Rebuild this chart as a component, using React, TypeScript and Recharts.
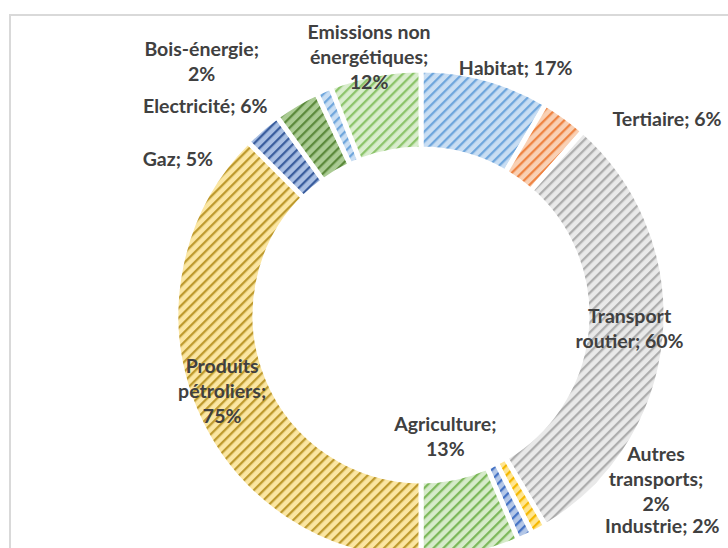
import React from "react"
import { PieChart, Pie, Cell } from "recharts"

// secteurs (moitié droite) puis énergies (moitié gauche), chaque moitié = 100 %
const sectorNames = ["Habitat", "Tertiaire", "Transport routier", "Autres transports", "Industrie", "Agriculture"]
const sectorValues = [17, 6, 60, 2, 2, 13]
const energyNames = ["Produits pétroliers", "Gaz", "Electricité", "Bois-énergie", "Emissions non énergétiques"]
const energyValues = [75, 5, 6, 2, 12]

// [stripe colour, background colour]
const sectorColors = [
  ["#6FA6DC", "#C9DEF3"],
  ["#EE8443", "#F9D0B4"],
  ["#ADADAD", "#E9E9E9"],
  ["#F5B800", "#FFE58F"],
  ["#4472C4", "#B4C7E7"],
  ["#7DB85A", "#D6EBCA"],
]
const energyColors = [
  ["#BE9A2E", "#FBE6A2"],
  ["#3B5E9E", "#A9BFE3"],
  ["#5C8A3C", "#AACB93"],
  ["#6FA6DC", "#C9DEF3"],
  ["#8CC46A", "#D9EDCD"],
]

// where each label goes: radius ("out" | "mid" | factor of outer radius), nudge, wrap width in chars
const labelLayout = [
  { at: "out", dx: 30, dy: -12, wrap: 99 },
  { at: "out", dx: 102, dy: 1, wrap: 99 },
  { at: "mid", dx: 4, dy: -7, wrap: 12 },
  { at: "out", dx: 117, dy: -52, wrap: 11 },
  { at: "out", dx: 137, dy: -12, wrap: 99 },
  { at: 0.53, dx: -2, dy: -7, wrap: 12 },
  { at: "mid", dx: -9, dy: -4, wrap: 11 },
  { at: "out", dx: -84, dy: 29, wrap: 99 },
  { at: "out", dx: -91, dy: 1, wrap: 99 },
  { at: "out", dx: -122, dy: -30, wrap: 13 },
  { at: "out", dx: -6, dy: -18, wrap: 13 },
]

const data = [
  ...sectorNames.map((name, i) => ({ name, value: sectorValues[i] })),
  ...energyNames.map((name, i) => ({ name, value: energyValues[i] })),
]
const colors = [...sectorColors, ...energyColors]

const RAD = Math.PI / 180
const LINE_H = 25

function wrapText(text: string, max: number) {
  const lines: string[] = []
  let cur = ""
  for (const w of text.split(" ")) {
    if (!cur) cur = w
    else if ((cur + " " + w).length <= max) cur += " " + w
    else {
      lines.push(cur)
      cur = w
    }
  }
  if (cur) lines.push(cur)
  return lines
}

function renderLabel(props: any) {
  const { cx, cy, midAngle, innerRadius, outerRadius, index, name, value } = props
  const lay = labelLayout[index]
  let r = outerRadius
  if (lay.at === "mid") r = (innerRadius + outerRadius) / 2
  else if (typeof lay.at === "number") r = outerRadius * lay.at
  const x = cx + r * Math.cos(-midAngle * RAD) + lay.dx
  const y = cy + r * Math.sin(-midAngle * RAD) + lay.dy
  const lines = wrapText(`${name}; ${value}%`, lay.wrap)
  const y0 = y - ((lines.length - 1) * LINE_H) / 2
  return (
    <text
      key={index}
      x={x}
      y={y0}
      textAnchor="middle"
      dominantBaseline="central"
      fill="#404040"
      fontFamily="Lato, sans-serif"
      fontWeight={700}
      fontSize={19.5}
    >
      {lines.map((l, i) => (
        <tspan key={i} x={x} y={y0 + i * LINE_H}>
          {l}
        </tspan>
      ))}
    </text>
  )
}

export default function App() {
  return (
    <div style={{ position: "absolute", left: 0, top: 0, width: 728, height: 548, overflow: "hidden", background: "#fff" }}>
      <div
        style={{
          position: "absolute",
          left: 9,
          top: 14,
          width: 800,
          height: 600,
          border: "2px solid #D9D9D9",
        }}
      />
      <div style={{ position: "absolute", left: 0, top: 0 }}>
        <PieChart width={728} height={548}>
          <defs>
            {colors.map(([fg, bg], i) => (
              <pattern
                key={i}
                id={`pat-${i}`}
                patternUnits="userSpaceOnUse"
                width={7}
                height={7}
                patternTransform="rotate(45)"
              >
                <rect width={7} height={7} fill={bg} />
                <rect width={2.3} height={7} fill={fg} />
              </pattern>
            ))}
          </defs>
          <Pie
            data={data}
            dataKey="value"
            nameKey="name"
            cx={416}
            cy={310}
            innerRadius={166}
            outerRadius={245}
            startAngle={90}
            endAngle={-270}
            stroke="#fff"
            strokeWidth={5}
            labelLine={false}
            label={renderLabel}
            isAnimationActive={false}
          >
            {data.map((_, i) => (
              <Cell key={i} fill={`url(#pat-${i})`} />
            ))}
          </Pie>
        </PieChart>
      </div>
    </div>
  )
}
